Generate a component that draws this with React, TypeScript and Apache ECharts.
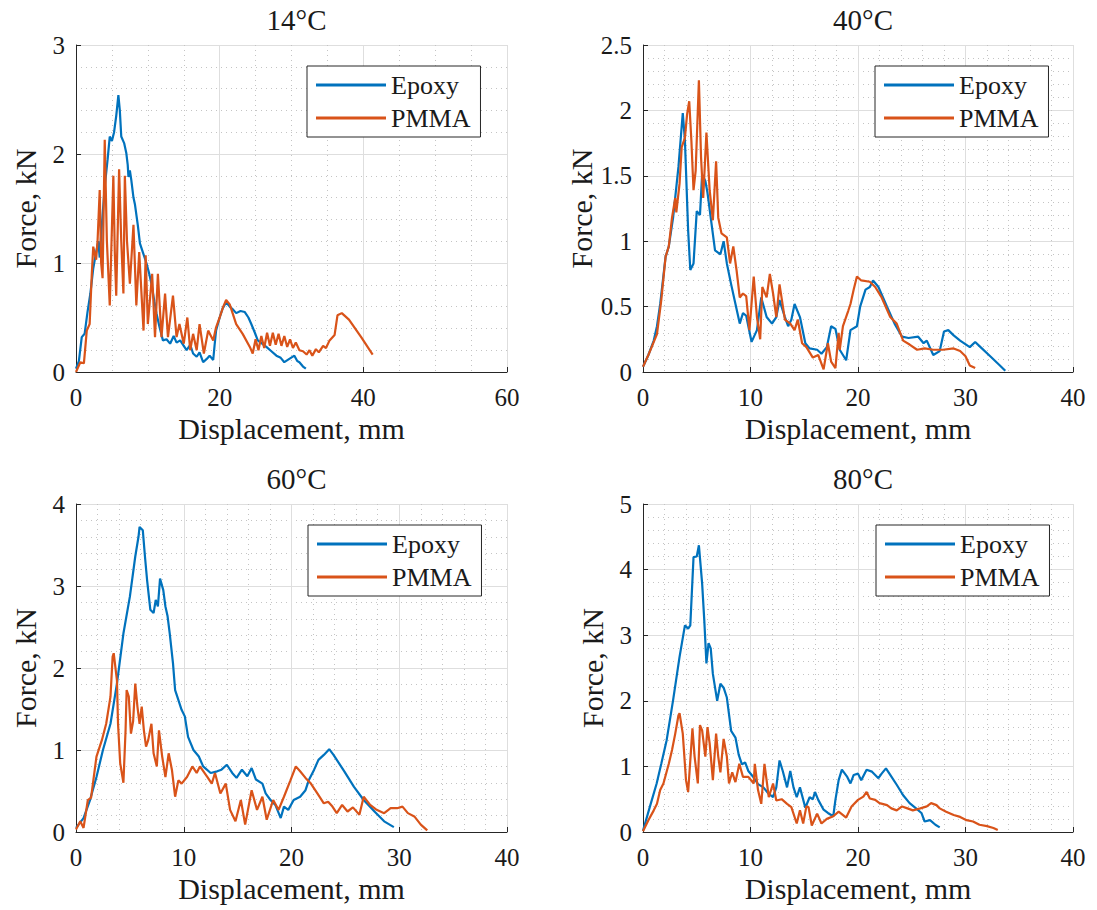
import React, { useEffect, useRef } from "react";
import * as echarts from "echarts";

const FONT = "'Liberation Serif', 'Times New Roman', serif";
const BLUE = "#0072BD";
const ORANGE = "#D95319";

const titles = ["14°C", "40°C", "60°C", "80°C"];
const seriesNames = ["Epoxy", "PMMA"];
const xMax = [60, 40, 40, 40];
const xInterval = [20, 10, 10, 10];
const xMinorSplit = [4, 5, 5, 5];
const yMax = [3, 2.5, 4, 5];
const yInterval = [1, 0.5, 1, 1];
const yMinorSplit = [5, 5, 5, 5];

const epoxy14 = [
  [0, 0.03], [0.4, 0.1], [0.8, 0.32], [1.2, 0.35], [1.6, 0.55], [2.0, 0.72], [2.4, 0.95], [2.8, 1.1],
  [3.1, 1.2], [3.3, 1.05], [3.6, 1.35], [4.0, 1.7], [4.4, 1.95], [4.7, 2.16], [5.0, 2.12], [5.3, 2.2],
  [5.6, 2.35], [5.9, 2.54], [6.1, 2.4], [6.3, 2.16], [6.7, 2.1], [7.0, 2.01], [7.2, 1.9], [7.3, 1.79],
  [7.5, 1.85], [7.7, 1.76], [8.0, 1.6], [8.2, 1.54], [8.6, 1.35], [8.9, 1.18], [9.3, 1.1], [9.8, 1.0],
  [10.2, 0.9], [10.5, 0.81], [10.9, 0.65], [11.2, 0.54], [11.6, 0.42], [12.1, 0.29], [12.6, 0.3],
  [13.1, 0.26], [13.6, 0.33], [14.0, 0.27], [14.5, 0.29], [15.0, 0.24], [15.4, 0.2], [15.9, 0.25],
  [16.3, 0.17], [16.8, 0.14], [17.2, 0.18], [17.7, 0.09], [18.2, 0.12], [18.6, 0.15], [19.1, 0.11],
  [19.3, 0.25], [19.5, 0.38], [20.0, 0.5], [20.4, 0.58], [20.9, 0.64], [21.4, 0.6], [21.9, 0.57],
  [22.3, 0.54], [22.9, 0.56], [23.5, 0.55], [24.0, 0.5], [24.4, 0.44], [24.9, 0.36], [25.3, 0.29],
  [25.9, 0.26], [26.5, 0.23], [27.2, 0.19], [27.9, 0.15], [28.5, 0.13], [29.0, 0.09], [29.7, 0.12],
  [30.4, 0.15], [30.8, 0.1], [31.1, 0.09], [31.6, 0.05], [32.0, 0.03],
];
const pmma14 = [
  [0, 0], [0.6, 0.09], [1.1, 0.08], [1.5, 0.38], [1.9, 0.44], [2.2, 0.9], [2.4, 1.15], [2.8, 1.03],
  [3.0, 1.2], [3.3, 1.67], [3.5, 1.0], [3.7, 0.86], [4.0, 2.13], [4.3, 1.2], [4.7, 0.61], [5.2, 1.8],
  [5.4, 1.1], [5.6, 0.7], [6.0, 1.86], [6.3, 1.2], [6.6, 0.72], [6.8, 1.8], [7.1, 1.2], [7.5, 0.81],
  [8.0, 1.35], [8.4, 0.61], [8.8, 1.1], [9.4, 0.38], [9.7, 1.07], [10.0, 0.44], [10.6, 0.9],
  [11.0, 0.32], [11.4, 0.9], [11.9, 0.32], [12.4, 0.72], [12.8, 0.32], [13.5, 0.7], [14.0, 0.32],
  [14.4, 0.44], [15.0, 0.26], [15.5, 0.5], [15.9, 0.2], [16.3, 0.35], [16.8, 0.2], [17.2, 0.44],
  [17.8, 0.17], [18.4, 0.38], [19.1, 0.29], [19.5, 0.41], [20.0, 0.5], [20.5, 0.6], [20.9, 0.66],
  [21.4, 0.62], [22.3, 0.44], [23.2, 0.35], [24.2, 0.23], [24.6, 0.17], [25.0, 0.3], [25.4, 0.2],
  [25.8, 0.33], [26.2, 0.22], [26.6, 0.36], [27.0, 0.24], [27.4, 0.36], [27.8, 0.25], [28.2, 0.35],
  [28.6, 0.24], [29.0, 0.33], [29.4, 0.23], [29.8, 0.3], [30.2, 0.22], [30.6, 0.27], [31.1, 0.2],
  [31.6, 0.19], [32.1, 0.16], [32.5, 0.2], [32.9, 0.15], [33.4, 0.21], [33.8, 0.18], [34.4, 0.24],
  [34.8, 0.22], [35.3, 0.29], [36.0, 0.34], [36.4, 0.52], [37.0, 0.54], [38.0, 0.48], [39.7, 0.32],
  [41.3, 0.16],
];

const epoxy40 = [
  [0, 0.04], [0.5, 0.13], [1.0, 0.24], [1.3, 0.35], [1.6, 0.52], [2.1, 0.88], [2.4, 0.96], [2.8, 1.18],
  [3.3, 1.57], [3.7, 1.98], [3.9, 1.77], [4.2, 1.08], [4.4, 0.78], [4.7, 0.83], [5.0, 1.23], [5.3, 1.2],
  [5.5, 1.51], [5.8, 1.46], [6.0, 1.37], [6.3, 1.18], [6.7, 0.93], [7.2, 0.9], [7.5, 1.0], [7.8, 0.83],
  [8.2, 0.67], [8.6, 0.52], [9.0, 0.37], [9.3, 0.45], [9.6, 0.43], [10.1, 0.23], [10.6, 0.32],
  [11.0, 0.57], [11.5, 0.42], [12.0, 0.37], [12.4, 0.42], [12.7, 0.55], [13.2, 0.42], [13.5, 0.35],
  [13.8, 0.4], [14.1, 0.52], [14.6, 0.42], [15.1, 0.22], [15.5, 0.18], [16.2, 0.17], [16.6, 0.14],
  [17.1, 0.19], [17.5, 0.35], [17.9, 0.33], [18.3, 0.17], [18.9, 0.09], [19.3, 0.32], [19.9, 0.35],
  [20.2, 0.5], [20.7, 0.63], [21.1, 0.65], [21.4, 0.7], [21.9, 0.65], [22.7, 0.5], [23.4, 0.37],
  [24.1, 0.27], [24.7, 0.26], [25.6, 0.27], [26.1, 0.22], [26.4, 0.24], [27.0, 0.13], [27.6, 0.16],
  [28.0, 0.31], [28.4, 0.32], [28.9, 0.28], [29.5, 0.24], [30.4, 0.19], [30.9, 0.23], [31.4, 0.19],
  [32.3, 0.12], [33.2, 0.05], [33.7, 0.01],
];
const pmma40 = [
  [0, 0.04], [0.5, 0.13], [1.3, 0.29], [1.7, 0.55], [2.1, 0.88], [2.4, 0.96], [2.7, 1.18], [3.0, 1.33],
  [3.1, 1.22], [3.4, 1.44], [3.6, 1.72], [3.9, 1.79], [4.1, 1.97], [4.3, 2.07], [4.5, 1.77], [4.7, 1.39],
  [4.9, 1.54], [5.2, 2.23], [5.4, 1.64], [5.6, 1.33], [5.9, 1.83], [6.2, 1.39], [6.5, 1.16], [6.8, 1.61],
  [7.0, 1.18], [7.3, 1.06], [7.8, 1.03], [8.1, 0.83], [8.4, 0.96], [8.7, 0.78], [9.0, 0.57], [9.3, 0.6],
  [9.6, 0.58], [9.9, 0.32], [10.3, 0.73], [10.6, 0.42], [10.9, 0.25], [11.1, 0.65], [11.5, 0.57],
  [11.8, 0.75], [12.1, 0.6], [12.4, 0.42], [12.7, 0.67], [13.2, 0.4], [13.7, 0.37], [14.1, 0.32],
  [14.4, 0.4], [14.8, 0.22], [15.2, 0.19], [15.8, 0.11], [16.3, 0.13], [16.8, 0.02], [17.2, 0.22],
  [17.5, 0.08], [17.9, 0.03], [18.2, 0.3], [18.3, 0.17], [18.6, 0.35], [19.1, 0.47], [19.3, 0.52],
  [19.6, 0.63], [19.9, 0.73], [20.3, 0.7], [21.1, 0.69], [21.6, 0.65], [22.2, 0.57], [23.0, 0.42],
  [23.6, 0.37], [24.2, 0.24], [24.8, 0.21], [25.5, 0.17], [26.2, 0.18], [27.0, 0.17], [27.9, 0.17],
  [28.9, 0.18], [29.5, 0.16], [30.0, 0.12], [30.4, 0.05], [30.9, 0.03],
];

const epoxy60 = [
  [0, 0.05], [0.7, 0.17], [1.3, 0.39], [1.9, 0.67], [2.5, 1.0], [3.2, 1.32], [3.8, 1.81], [4.4, 2.42],
  [5.0, 2.87], [5.5, 3.36], [5.8, 3.6], [5.9, 3.72], [6.2, 3.68], [6.4, 3.36], [6.6, 3.07], [6.9, 2.71],
  [7.2, 2.67], [7.4, 2.83], [7.6, 2.75], [7.8, 3.09], [8.1, 2.95], [8.3, 2.75], [8.5, 2.63], [8.7, 2.42],
  [9.0, 2.06], [9.2, 1.73], [9.4, 1.65], [9.8, 1.49], [10.1, 1.41], [10.4, 1.16], [10.9, 1.0],
  [11.4, 0.92], [11.8, 0.8], [12.5, 0.72], [13.1, 0.74], [13.5, 0.76], [14.0, 0.82], [14.5, 0.72],
  [14.9, 0.66], [15.4, 0.76], [15.9, 0.68], [16.3, 0.78], [16.7, 0.64], [17.3, 0.59], [17.6, 0.47],
  [18.05, 0.39], [18.5, 0.33], [19.0, 0.17], [19.3, 0.31], [19.7, 0.27], [20.2, 0.39], [20.8, 0.43],
  [21.3, 0.51], [21.6, 0.63], [22.1, 0.76], [22.5, 0.88], [23.0, 0.94], [23.5, 1.01], [23.9, 0.94],
  [24.9, 0.74], [25.8, 0.55], [26.7, 0.39], [27.7, 0.25], [28.6, 0.13], [29.5, 0.06],
];
const pmma60 = [
  [0, 0.03], [0.4, 0.13], [0.7, 0.05], [1.1, 0.39], [1.4, 0.42], [1.9, 0.92], [2.4, 1.12], [2.8, 1.32],
  [3.2, 1.65], [3.4, 2.14], [3.5, 2.18], [3.8, 1.85], [3.9, 1.32], [4.1, 0.84], [4.4, 0.6], [4.6, 1.24],
  [4.7, 1.73], [4.9, 1.65], [5.1, 1.2], [5.3, 1.35], [5.5, 1.81], [5.7, 1.53], [5.9, 1.32], [6.1, 1.53],
  [6.3, 1.24], [6.5, 1.04], [6.7, 1.12], [7.0, 1.32], [7.2, 0.96], [7.5, 0.8], [7.7, 1.24], [8.0, 0.92],
  [8.3, 0.67], [8.6, 0.96], [8.9, 0.76], [9.2, 0.43], [9.5, 0.63], [9.8, 0.59], [10.3, 0.67],
  [10.8, 0.8], [11.2, 0.72], [11.5, 0.8], [12.2, 0.67], [12.6, 0.59], [12.9, 0.72], [13.4, 0.47],
  [13.9, 0.59], [14.3, 0.27], [14.8, 0.13], [15.3, 0.39], [15.7, 0.09], [16.3, 0.51], [16.8, 0.27],
  [17.3, 0.43], [17.7, 0.15], [18.3, 0.39], [18.8, 0.27], [19.3, 0.43], [19.9, 0.63], [20.4, 0.8],
  [20.8, 0.74], [21.3, 0.66], [21.8, 0.59], [22.4, 0.47], [23.0, 0.35], [23.4, 0.37], [23.8, 0.31],
  [24.2, 0.23], [24.7, 0.33], [25.2, 0.25], [25.7, 0.3], [26.3, 0.21], [26.7, 0.43], [27.3, 0.33],
  [27.9, 0.27], [28.6, 0.23], [29.2, 0.29], [29.8, 0.29], [30.3, 0.31], [30.8, 0.23], [31.4, 0.19],
  [32.0, 0.09], [32.6, 0.02],
];

const epoxy80 = [
  [0, 0.02], [0.65, 0.39], [1.27, 0.74], [1.7, 1.04], [2.2, 1.4], [2.8, 2.01], [3.4, 2.67], [3.9, 3.15],
  [4.2, 3.1], [4.4, 3.15], [4.7, 4.19], [5.0, 4.2], [5.2, 4.37], [5.5, 3.79], [5.7, 3.23], [5.9, 2.57],
  [6.1, 2.88], [6.3, 2.8], [6.5, 2.41], [6.9, 2.0], [7.2, 2.26], [7.5, 2.2], [7.8, 2.05], [8.2, 1.54],
  [8.6, 1.44], [8.9, 1.18], [9.2, 1.03], [9.5, 1.06], [9.8, 0.93], [10.3, 0.83], [10.7, 0.73],
  [11.2, 0.68], [11.7, 0.58], [12.1, 0.53], [12.4, 0.68], [12.7, 1.09], [13.0, 0.93], [13.4, 0.68],
  [13.7, 0.93], [14.0, 0.68], [14.3, 0.53], [14.6, 0.68], [15.1, 0.37], [15.5, 0.53], [15.8, 0.5],
  [16.0, 0.61], [16.3, 0.49], [16.8, 0.34], [17.2, 0.29], [17.7, 0.24], [17.9, 0.49], [18.2, 0.79],
  [18.5, 0.95], [19.0, 0.84], [19.3, 0.74], [19.6, 0.87], [20.0, 0.89], [20.3, 0.79], [20.8, 0.95],
  [21.3, 0.92], [21.9, 0.82], [22.2, 0.89], [22.6, 0.97], [23.0, 0.87], [23.6, 0.72], [24.2, 0.56],
  [24.8, 0.44], [25.4, 0.36], [25.9, 0.29], [26.2, 0.16], [26.7, 0.18], [27.2, 0.11], [27.6, 0.07],
];
const pmma80 = [
  [0, 0.01], [0.5, 0.18], [1.0, 0.33], [1.3, 0.43], [1.6, 0.64], [1.9, 0.74], [2.4, 1.04], [2.7, 1.25],
  [3.0, 1.5], [3.3, 1.78], [3.4, 1.81], [3.7, 1.5], [4.0, 0.79], [4.2, 0.61], [4.4, 1.09], [4.6, 1.58],
  [4.8, 1.15], [5.1, 0.74], [5.3, 1.63], [5.5, 1.55], [5.8, 1.15], [6.0, 1.6], [6.2, 1.35], [6.5, 0.79],
  [6.8, 1.5], [7.0, 1.15], [7.2, 0.91], [7.5, 1.42], [7.8, 1.15], [8.0, 0.74], [8.3, 0.91], [8.6, 0.76],
  [8.96, 1.04], [9.3, 0.84], [9.8, 0.84], [10.3, 0.74], [10.4, 1.04], [10.7, 0.64], [11.0, 0.43],
  [11.3, 1.04], [11.7, 0.53], [12.1, 0.74], [12.4, 0.48], [12.9, 0.5], [13.4, 0.43], [13.8, 0.38],
  [14.3, 0.13], [14.6, 0.33], [14.9, 0.13], [15.2, 0.39], [15.4, 0.38], [15.7, 0.1], [16.2, 0.28],
  [16.6, 0.13], [17.1, 0.2], [17.7, 0.24], [18.2, 0.31], [18.9, 0.22], [19.4, 0.39], [20.0, 0.49],
  [20.5, 0.54], [20.8, 0.61], [21.1, 0.51], [21.6, 0.49], [22.0, 0.44], [22.7, 0.41], [23.1, 0.36],
  [23.6, 0.33], [24.1, 0.39], [24.6, 0.36], [25.1, 0.33], [25.8, 0.36], [26.4, 0.39], [26.8, 0.44],
  [27.3, 0.41], [27.6, 0.36], [28.2, 0.31], [28.9, 0.26], [29.5, 0.23], [30.1, 0.18], [30.7, 0.16],
  [31.3, 0.11], [32.0, 0.09], [32.6, 0.06], [33.0, 0.03],
];

const epoxyData = [epoxy14, epoxy40, epoxy60, epoxy80];
const pmmaData = [pmma14, pmma40, pmma60, pmma80];

// layout
const grids = [
  { left: 76, top: 45, width: 431, height: 327 },
  { left: 643, top: 45, width: 430, height: 327 },
  { left: 76, top: 504, width: 431, height: 328 },
  { left: 643, top: 504, width: 430, height: 328 },
];
const legendPos = [
  { left: 307, top: 66 },
  { left: 875, top: 66 },
  { left: 308, top: 525 },
  { left: 876, top: 525 },
];

const AXIS_COLOR = "#262626";
const TEXT_COLOR = "#1a1a1a";

export default function App() {
  const ref = useRef<HTMLDivElement>(null);
  useEffect(() => {
    if (!ref.current) return;
    const chart = echarts.init(ref.current, undefined, { renderer: "svg" });
    const idx = [0, 1, 2, 3];
    const option: any = {
      animation: false,
      backgroundColor: "#fff",
      textStyle: { fontFamily: FONT, color: TEXT_COLOR },
      title: idx.map((i) => ({
        text: titles[i],
        left: grids[i].left + grids[i].width / 2,
        top: grids[i].top - 45,
        textAlign: "center",
        textStyle: { fontFamily: FONT, fontSize: 29, fontWeight: "normal", color: TEXT_COLOR },
      })),
      grid: grids.map((g) => ({ ...g, containLabel: false })),
      legend: idx.map((i) => ({
        ...legendPos[i],
        orient: "vertical",
        data: seriesNames,
        icon: "rect",
        itemWidth: 70,
        itemHeight: 3,
        itemGap: 7,
        padding: [6, 10, 6, 9],
        borderColor: AXIS_COLOR,
        borderWidth: 1,
        backgroundColor: "#fff",
        selectedMode: false,
        textStyle: { fontFamily: FONT, fontSize: 26, color: TEXT_COLOR },
      })),
      xAxis: idx.map((i) => ({
        type: "value",
        gridIndex: i,
        min: 0,
        max: xMax[i],
        interval: xInterval[i],
        name: "Displacement, mm",
        nameLocation: "middle",
        nameGap: 41,
        nameTextStyle: { fontFamily: FONT, fontSize: 30, color: TEXT_COLOR },
        axisLine: { show: true, onZero: false, lineStyle: { color: AXIS_COLOR, width: 1 } },
        axisTick: { show: true, inside: true, length: 5, lineStyle: { color: AXIS_COLOR } },
        axisLabel: { fontFamily: FONT, fontSize: 25, color: TEXT_COLOR, margin: 13 },
        splitLine: { show: true, lineStyle: { color: "#dedede", width: 1 } },
        minorTick: { show: false, splitNumber: xMinorSplit[i] },
        minorSplitLine: { show: true, lineStyle: { color: "#c4c4c4", width: 1, type: [1, 4] } },
      })),
      yAxis: idx.map((i) => ({
        type: "value",
        gridIndex: i,
        min: 0,
        max: yMax[i],
        interval: yInterval[i],
        name: "Force, kN",
        nameLocation: "middle",
        nameGap: 36,
        nameTextStyle: { fontFamily: FONT, fontSize: 30, color: TEXT_COLOR },
        axisLine: { show: true, onZero: false, lineStyle: { color: AXIS_COLOR, width: 1 } },
        axisTick: { show: true, inside: true, length: 5, lineStyle: { color: AXIS_COLOR } },
        axisLabel: { fontFamily: FONT, fontSize: 25, color: TEXT_COLOR, margin: 11 },
        splitLine: { show: true, lineStyle: { color: "#dedede", width: 1 } },
        minorTick: { show: false, splitNumber: yMinorSplit[i] },
        minorSplitLine: { show: true, lineStyle: { color: "#c4c4c4", width: 1, type: [1, 4] } },
      })),
      series: idx.flatMap((i) => [
        {
          name: seriesNames[0],
          type: "line",
          xAxisIndex: i,
          yAxisIndex: i,
          data: epoxyData[i],
          symbol: "none",
          color: BLUE,
          lineStyle: { color: BLUE, width: 2.2 },
          z: 3,
        },
        {
          name: seriesNames[1],
          type: "line",
          xAxisIndex: i,
          yAxisIndex: i,
          data: pmmaData[i],
          symbol: "none",
          color: ORANGE,
          lineStyle: { color: ORANGE, width: 2.2 },
          z: 4,
        },
      ]),
    };
    chart.setOption(option);
    return () => chart.dispose();
  }, []);
  return (
    <div
      ref={ref}
      style={{ position: "fixed", left: 0, top: 0, width: 1097, height: 910, background: "#fff" }}
    />
  );
}
